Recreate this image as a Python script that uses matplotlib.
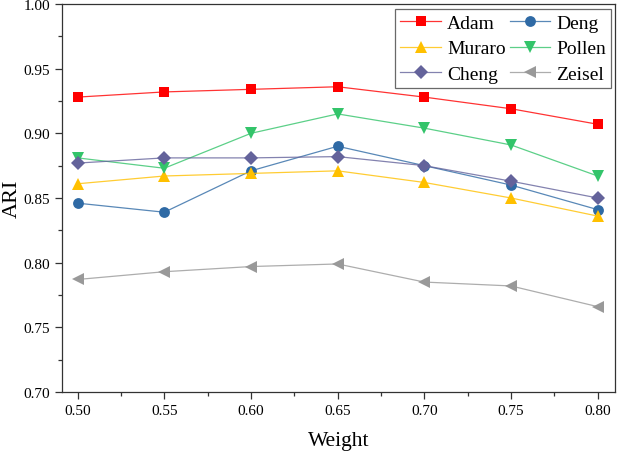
import matplotlib
matplotlib.use("Agg")
import matplotlib.pyplot as plt
from matplotlib.ticker import MultipleLocator
from matplotlib.colors import to_rgba

plt.rcParams['font.family'] = ['Liberation Serif', 'DejaVu Serif']

weights = [0.50, 0.55, 0.60, 0.65, 0.70, 0.75, 0.80]
adam   = [0.928, 0.932, 0.934, 0.936, 0.928, 0.919, 0.907]
deng   = [0.846, 0.839, 0.871, 0.890, 0.875, 0.860, 0.841]
muraro = [0.861, 0.867, 0.869, 0.871, 0.862, 0.850, 0.836]
pollen = [0.881, 0.873, 0.900, 0.915, 0.904, 0.891, 0.867]
cheng  = [0.877, 0.881, 0.881, 0.882, 0.875, 0.863, 0.850]
zeisel = [0.787, 0.793, 0.797, 0.799, 0.785, 0.782, 0.766]

series = [
    ("Adam", adam, "#FF0000", "s", 7),
    ("Deng", deng, "#2F6AA5", "o", 7.8),
    ("Muraro", muraro, "#FFC000", "^", 8.5),
    ("Pollen", pollen, "#33C46A", "v", 8.5),
    ("Cheng", cheng, "#64639B", "D", 7.2),
    ("Zeisel", zeisel, "#999999", "<", 8.5),
]

fig = plt.figure(figsize=(6.2, 4.52), dpi=100)
ax = fig.add_axes([0.1, 0.1305, 0.892, 0.8585])

handles = {}
for name, vals, col, mk, ms in series:
    h, = ax.plot(weights, vals, color=to_rgba(col, 0.8), lw=0.9, marker=mk,
                 markersize=ms, markerfacecolor=col, markeredgewidth=0, label=name)
    handles[name] = h

ax.set_xlim(0.491, 0.81)
ax.set_ylim(0.70, 1.00)
ax.xaxis.set_major_locator(MultipleLocator(0.05))
ax.xaxis.set_minor_locator(MultipleLocator(0.025))
ax.yaxis.set_major_locator(MultipleLocator(0.05))
ax.yaxis.set_minor_locator(MultipleLocator(0.025))
ax.xaxis.set_major_formatter(plt.FuncFormatter(lambda v, p: f"{v:.2f}"))
ax.yaxis.set_major_formatter(plt.FuncFormatter(lambda v, p: f"{v:.2f}"))

for sp in ax.spines.values():
    sp.set_color("#333333")
    sp.set_linewidth(0.9)
ax.tick_params(which="both", direction="out", colors="#333333", labelcolor="black",
               top=False, right=False)
ax.tick_params(which="major", length=5, width=0.9, labelsize=11)
ax.tick_params(which="minor", length=3, width=0.9)

ax.set_xlabel("Weight", fontsize=15.5, labelpad=10)
ax.set_ylabel("ARI", fontsize=16)
ax.yaxis.set_label_coords(-0.072, 0.5)

order = ["Adam", "Muraro", "Cheng", "Deng", "Pollen", "Zeisel"]
leg = ax.legend([handles[n] for n in order], order, loc="upper right", ncol=2,
                fontsize=14, frameon=True, fancybox=False,
                edgecolor="#444444", handlelength=2.1, columnspacing=0.2,
                handletextpad=0.3, labelspacing=0.42, borderpad=0.26,
                borderaxespad=0, bbox_to_anchor=(0.9928, 0.987))
leg.get_frame().set_linewidth(0.9)

fig.savefig("out.png", dpi=100)
